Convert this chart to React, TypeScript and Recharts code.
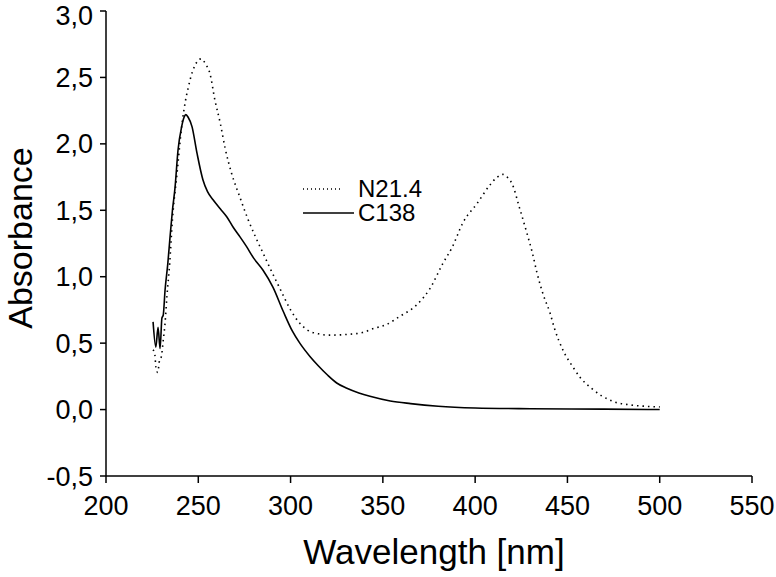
import { LineChart, Line, XAxis, YAxis } from 'recharts';

const n214Wavelength = [
  225.5, 226.5, 227, 228, 229, 230, 231, 232, 233, 234.5, 236, 238.5, 241, 243, 244.5, 247, 249.5,
  251.5, 254, 256.3, 259, 262, 264.5, 268, 272.5, 277, 281, 285, 289, 292.5, 296, 300, 305, 309,
  315, 321, 330, 339, 345, 352, 359, 368.5, 375.5, 382.5, 387.5, 393.5, 401, 408, 412, 415, 418,
  420, 424, 428, 431, 433.5, 437, 440.5, 443, 447.5, 453, 457, 463, 469, 475, 484, 492, 500,
];
const n214Absorbance = [
  0.45, 0.41, 0.32, 0.28, 0.37, 0.4, 0.52, 0.65, 0.85, 1.1, 1.43, 1.78, 2.13, 2.32, 2.42, 2.55, 2.62,
  2.64, 2.6, 2.53, 2.33, 2.15, 1.97, 1.78, 1.6, 1.43, 1.3, 1.18, 1.06, 0.96, 0.86, 0.75, 0.65, 0.6,
  0.57, 0.56, 0.565, 0.58, 0.61, 0.64, 0.7, 0.79, 0.91, 1.1, 1.22, 1.41, 1.55, 1.69, 1.75, 1.77, 1.74,
  1.7, 1.52, 1.33, 1.18, 1.03, 0.86, 0.73, 0.61, 0.45, 0.32, 0.24, 0.16, 0.1, 0.06, 0.035, 0.025, 0.02,
];

const c138Wavelength = [
  225.5, 227, 228.2, 229.3, 230.3, 231, 232, 233.5, 234.7, 236, 237.4, 239, 241, 242.3, 243.3, 244.5,
  246.6, 249.3, 252.5, 255, 258, 262, 265.5, 269, 272.6, 276, 280, 285, 290.5, 296, 301, 305, 310.5,
  315, 320, 325, 330.5, 337, 343, 354, 365, 380, 400, 430, 470, 500,
];
const c138Absorbance = [
  0.66, 0.47, 0.62, 0.46, 0.69, 0.71, 0.9, 1.1, 1.3, 1.5, 1.67, 1.95, 2.13, 2.2, 2.22, 2.2,
  2.13, 1.93, 1.73, 1.64, 1.58, 1.51, 1.45, 1.37, 1.3, 1.23, 1.14, 1.05, 0.92, 0.74, 0.59, 0.5, 0.4,
  0.33, 0.26, 0.2, 0.16, 0.125, 0.1, 0.065, 0.045, 0.025, 0.012, 0.006, 0.003, 0,
];

const seriesNames = ['N21.4', 'C138'];
const xTicks = [200, 250, 300, 350, 400, 450, 500, 550];
const yTicks = [-0.5, 0, 0.5, 1, 1.5, 2, 2.5, 3];

const font = 'Liberation Sans, Arial, sans-serif';

const n214Data = n214Wavelength.map((x, i) => ({ x, y: n214Absorbance[i] }));
const c138Data = c138Wavelength.map((x, i) => ({ x, y: c138Absorbance[i] }));

const LegendBox = () => (
  <div
    style={{
      position: 'absolute',
      left: 300,
      top: 177,
      fontFamily: font,
      fontSize: 24,
      color: '#000',
      lineHeight: '24px',
    }}
  >
    {seriesNames.map((name, i) => (
      <div key={name} style={{ display: 'flex', alignItems: 'center', height: 24 }}>
        <svg width={54} height={24}>
          <line
            x1={3}
            x2={i === 0 ? 43 : 55}
            y1={12}
            y2={12}
            stroke="#000"
            strokeWidth={1.5}
            strokeDasharray={i === 0 ? '1 3' : undefined}
          />
        </svg>
        <span style={{ marginLeft: 4 }}>{name}</span>
      </div>
    ))}
  </div>
);

export default function App() {
  return (
    <div style={{ position: 'absolute', left: 0, top: 0, width: 776, height: 577, background: '#fff' }}>
      <LineChart width={776} height={577} margin={{ top: 11, right: 24, left: 0, bottom: 0 }}>
        <XAxis
          dataKey="x"
          type="number"
          domain={[200, 550]}
          ticks={xTicks}
          allowDuplicatedCategory={false}
          height={101}
          stroke="#000"
          strokeWidth={1.5}
          tickSize={7}
          tickMargin={13}
          tick={{ fill: '#000', fontSize: 27, fontFamily: font }}
          label={{
            content: () => (
              <text x={434} y={564} textAnchor="middle" fontSize={35} fontFamily={font} fill="#000">
                Wavelength [nm]
              </text>
            ),
          }}
        />
        <YAxis
          type="number"
          domain={[-0.5, 3]}
          ticks={yTicks}
          width={106}
          stroke="#000"
          strokeWidth={1.5}
          tickSize={6}
          tickMargin={7}
          tickFormatter={(v: number) => v.toFixed(1).replace('.', ',')}
          tick={{ fill: '#000', fontSize: 27, fontFamily: font }}
          label={{
            content: () => (
              <text
                x={20}
                y={238}
                transform="rotate(-90, 20, 238)"
                textAnchor="middle"
                dominantBaseline="central"
                fontSize={34}
                fontFamily={font}
                fill="#000"
              >
                Absorbance
              </text>
            ),
          }}
        />
        <Line
          data={n214Data}
          dataKey="y"
          name={seriesNames[0]}
          type="monotoneX"
          stroke="#000"
          strokeWidth={1.6}
          strokeDasharray="1.5 4"
          dot={false}
          isAnimationActive={false}
        />
        <Line
          data={c138Data}
          dataKey="y"
          name={seriesNames[1]}
          type="monotoneX"
          stroke="#000"
          strokeWidth={1.6}
          dot={false}
          isAnimationActive={false}
        />
      </LineChart>
      <LegendBox />
    </div>
  );
}
